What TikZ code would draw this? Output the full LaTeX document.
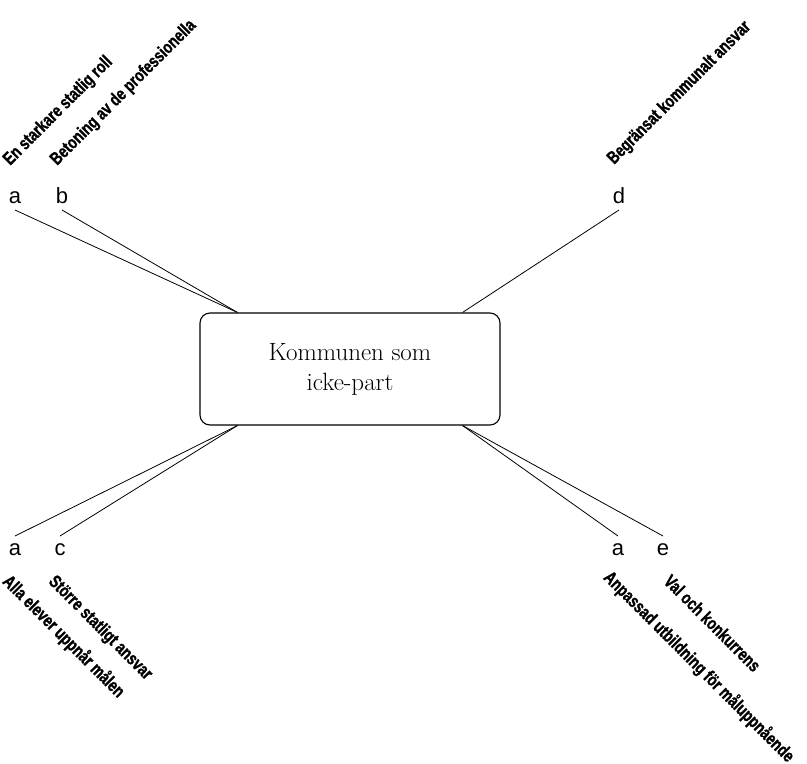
\documentclass[tikz,border=0pt]{standalone}
\usepackage{fontspec}
\newfontfamily\letterfont{Liberation Sans}
\newfontfamily\themefont{Liberation Sans}[FakeStretch=0.77, FakeBold=1.2,
	BoldFont={Liberation Sans Bold}, BoldFeatures={FakeStretch=0.77, FakeBold=1.2}]

\tikzset{
	letter/.style={font=\letterfont\fontsize{22}{22}\selectfont, inner sep=0pt,
		text height=12pt, text depth=0pt, outer ysep=7pt},
	theme/.style={font=\themefont\bfseries\fontsize{18}{18}\selectfont, inner sep=0pt,
		text height=13pt, text depth=3.5pt},
	link/.style={line width=0.8pt},
}

\begin{document}
\begin{tikzpicture}[x=1pt,y=-1pt]
		\useasboundingbox (0,0) rectangle (807,764);
		\node[draw, rounded corners=10pt, line width=1.1pt, minimum width=300pt,
			minimum height=112pt, align=center, font=\fontsize{25}{30}\selectfont]
			(kommun) at (350,369) {Kommunen som\\icke-part};

		% upper left
		\node[letter, anchor=south](ula) at (15,210) {a};
		\node[letter, anchor=south](ulb) at (62,210) {b};
		\node[theme, rotate=45, anchor=base west](starkare) at (10,166) {En starkare statlig roll};
		\node[theme, rotate=45, anchor=base west](betoning) at (57,166) {Betoning av de professionella};
		\draw[link] (ula.south) -- ([xshift=38pt]kommun.north west);
		\draw[link] (ulb.south) -- ([xshift=38pt]kommun.north west);

		% upper right
		\node[letter, anchor=south](urd) at (619,210) {d};
		\node[theme, rotate=45, anchor=base west](begransat) at (614,165) {Begränsat kommunalt ansvar};
		\draw[link] (urd.south) -- ([xshift=-38pt]kommun.north east);

		% lower left
		\node[letter, anchor=north](lla) at (15,536) {a};
		\node[letter, anchor=north](llc) at (60,536) {c};
		\node[theme, rotate=-45, anchor=north west](alla) at (11,573) {Alla elever uppnår målen};
		\node[theme, rotate=-45, anchor=north west](storre) at (57,573) {Större statligt ansvar};
		\draw[link] (lla.north) -- ([xshift=38pt]kommun.south west);
		\draw[link] (llc.north) -- ([xshift=38pt]kommun.south west);

		% lower right
		\node[letter, anchor=north](lra) at (618,536) {a};
		\node[letter, anchor=north](lre) at (663,536) {e};
		\node[theme, rotate=-45, anchor=north west](anpassad) at (612,569) {Anpassad utbildning för måluppnående};
		\node[theme, rotate=-45, anchor=north west](val) at (672,573) {Val och konkurrens};
		\draw[link] (lra.north) -- ([xshift=-38pt]kommun.south east);
		\draw[link] (lre.north) -- ([xshift=-38pt]kommun.south east);
	\end{tikzpicture}
\end{document}
